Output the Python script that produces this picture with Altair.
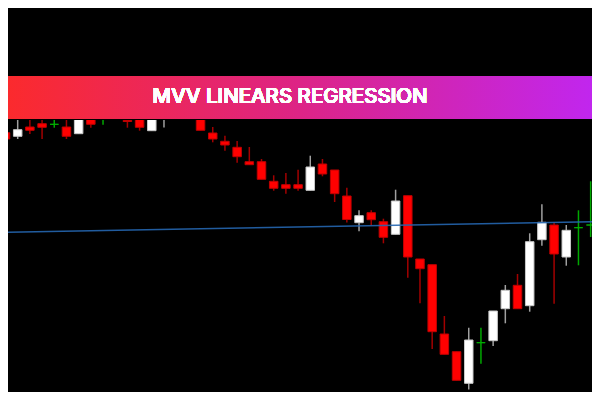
import altair as alt
import pandas as pd

# Candle data (price units), index = bar number
idx = list(range(50))
opens = [26.73, 26.37, 27.30, 27.63, 27.57, 27.30, 26.63, 28.60, 28.80, 29.20,
         27.95, 28.80, 26.93, 28.50, 29.20, 30.00, 29.00, 26.70, 25.87, 25.27,
         23.83, 23.83, 21.87, 21.53, 21.53, 20.97, 23.60, 23.00, 20.40, 17.73,
         18.73, 17.83, 16.57, 20.43, 14.10, 13.53, 6.60, 4.83, 1.67, 5.73,
         5.93, 9.13, 11.47, 9.43, 16.03, 17.50, 14.30, 17.23, 17.50, 17.77]
highs = [27.33, 28.20, 28.30, 28.40, 28.30, 28.40, 29.20, 29.00, 29.40, 29.60,
         27.95, 29.20, 29.40, 30.20, 30.80, 30.40, 29.40, 27.30, 26.43, 25.90,
         25.30, 24.10, 22.47, 22.70, 23.03, 24.43, 24.10, 23.00, 21.23, 18.98,
         18.98, 18.13, 21.03, 20.43, 14.10, 13.53, 8.40, 4.83, 7.23, 7.23,
         8.90, 11.50, 12.60, 16.67, 19.57, 17.77, 17.50, 18.97, 21.87, 23.00]
lows = [25.23, 26.10, 26.60, 26.10, 27.23, 26.10, 26.63, 27.23, 27.53, 28.20,
        27.23, 26.93, 26.93, 27.25, 28.80, 28.40, 26.97, 25.77, 24.93, 23.73,
        23.53, 22.07, 20.93, 20.63, 20.93, 20.97, 22.37, 19.80, 17.75, 16.88,
        17.48, 15.67, 16.57, 12.23, 9.67, 5.10, 4.57, 1.97, 1.05, 3.63,
        5.40, 7.67, 9.13, 8.83, 15.43, 9.63, 13.43, 13.47, 16.30, 17.50]
closes = [26.10, 27.03, 26.97, 27.27, 27.57, 26.37, 28.80, 27.57, 28.80, 28.50,
          27.85, 27.27, 29.00, 29.80, 30.50, 28.80, 26.97, 26.10, 25.50, 24.33,
          23.53, 22.07, 21.17, 21.17, 21.17, 23.30, 22.60, 20.63, 18.05, 18.43,
          18.03, 16.27, 19.90, 14.30, 13.13, 6.83, 4.57, 1.97, 6.00, 5.73,
          8.90, 10.97, 9.13, 15.83, 17.77, 14.60, 16.97, 17.23, 17.50, 22.17]

# Linear regression line end points
reg_idx = [-1, 50]
reg_val = [16.76, 17.86]

title_text = "MVV LINEARS REGRESSION"

kinds = []
for o, c in zip(opens, closes):
    kinds.append("bull" if c > o else ("bear" if c < o else "doji"))

df = pd.DataFrame({"i": idx, "open": opens, "high": highs, "low": lows,
                   "close": closes, "kind": kinds})
reg = pd.DataFrame({"i": reg_idx, "v": reg_val})

W, H = 584, 384
xs = alt.Scale(domain=[0.205, 48.11], nice=False, zero=False, padding=0)
ys = alt.Scale(domain=[0.8, 39.2], nice=False, zero=False, padding=0)
kind_dom = ["bear", "bull", "doji"]

wick = alt.Chart(df).mark_rule(strokeWidth=1.5, clip=True).encode(
    x=alt.X("i:Q", scale=xs, axis=None),
    y=alt.Y("high:Q", scale=ys, axis=None),
    y2="low:Q",
    color=alt.Color("kind:N", scale=alt.Scale(domain=kind_dom,
                    range=["#a30000", "#a0a0a0", "#00a800"]), legend=None),
)

body = alt.Chart(df).mark_bar(size=8.5, strokeWidth=1, clip=True).encode(
    x=alt.X("i:Q", scale=xs, axis=None),
    y=alt.Y("open:Q", scale=ys, axis=None),
    y2="close:Q",
    fill=alt.Fill("kind:N", scale=alt.Scale(domain=kind_dom,
                  range=["#ff0000", "#ffffff", "#00b000"]), legend=None),
    stroke=alt.Stroke("kind:N", scale=alt.Scale(domain=kind_dom,
                      range=["#c00000", "#c8c8c8", "#00b000"]), legend=None),
)

line = alt.Chart(reg).mark_line(color="#2566b0", strokeWidth=1.5, clip=True,
                                opacity=0.9).encode(
    x=alt.X("i:Q", scale=xs, axis=None),
    y=alt.Y("v:Q", scale=ys, axis=None),
)

banner = alt.Chart(df).mark_rect(
    fill=alt.Gradient(gradient="linear",
                      stops=[alt.GradientStop(color="#fb2a2d", offset=0),
                             alt.GradientStop(color="#dd2486", offset=0.5),
                             alt.GradientStop(color="#c126ee", offset=1)],
                      x1=0, x2=1, y1=0, y2=0)
).encode(x=alt.value(0), x2=alt.value(W), y=alt.value(68), y2=alt.value(111.5))

edge = alt.Chart(df).mark_rule(color="#000000", opacity=0.35, strokeWidth=1).encode(
    x=alt.value(0), x2=alt.value(W), y=alt.value(111.5))

title = alt.Chart(df).mark_text(
    text=title_text, font="Inter", fontWeight=500, fontSize=20.5,
    color="#ffffff", align="center", baseline="alphabetic"
).encode(x=alt.value(282), y=alt.value(95.3))

chart = alt.layer(wick, body, line, banner, edge, title).properties(
    width=W, height=H, padding=0, autosize=alt.AutoSizeParams(type="none"),
    background="#000000"
).configure_view(stroke=None)

chart.save("out.html", embed_options={"renderer": "svg", "actions": False})
